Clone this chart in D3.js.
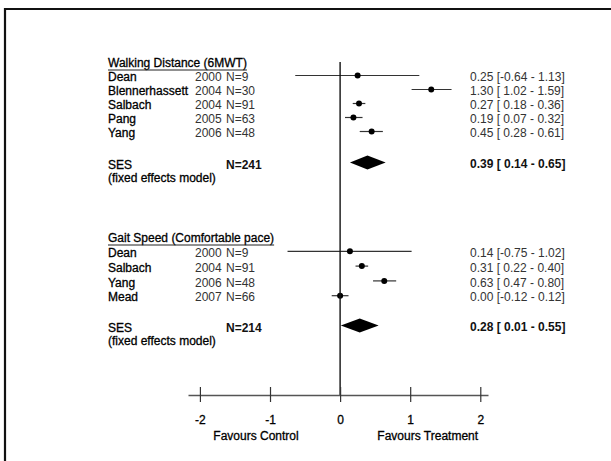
<!DOCTYPE html>
<html><head><meta charset="utf-8">
<script src="https://cdn.jsdelivr.net/npm/d3@7"></script>
<style>
body{margin:0;background:#fff;}
svg{display:block;}
text{font-family:"Liberation Sans",Arial,sans-serif;font-size:12px;fill:#111;}
.nm{fill:#000;stroke:#000;stroke-width:0.3px;}
</style></head><body>
<svg id="c" width="611" height="461"></svg>
<script>
// ---- data ----
const walkTitle = "Walking Distance (6MWT)";
const walkNames = ["Dean","Blennerhassett","Salbach","Pang","Yang"];
const walkYears = [2000,2004,2004,2005,2006];
const walkN = [9,30,91,63,48];
const walkEst = [0.25,1.30,0.27,0.19,0.45];
const walkLo = [-0.64,1.02,0.18,0.07,0.28];
const walkHi = [1.13,1.59,0.36,0.32,0.61];
const walkSES = {n:241, est:0.39, lo:0.14, hi:0.65};

const gaitTitle = "Gait Speed (Comfortable pace)";
const gaitNames = ["Dean","Salbach","Yang","Mead"];
const gaitYears = [2000,2004,2006,2007];
const gaitN = [9,91,48,66];
const gaitEst = [0.14,0.31,0.63,0.00];
const gaitLo = [-0.75,0.22,0.47,-0.12];
const gaitHi = [1.02,0.40,0.80,0.12];
const gaitSES = {n:214, est:0.28, lo:0.01, hi:0.55};

const tickValues = [-2,-1,0,1,2];
const leftLabel = "Favours Control";
const rightLabel = "Favours Treatment";

// ---- drawing ----
const svg = d3.select("#c");
svg.append("path").attr("d","M5,461 L5,9 L611,9").attr("fill","none").attr("stroke","#111").attr("stroke-width",2.2);

const x = d3.scaleLinear().domain([-2.17,2.11]).range([188,488]);
const f2 = v => v.toFixed(2);
const ci = (lo,hi) => "[" + (lo<0? "-"+f2(-lo) : " "+f2(lo)) + " - " + f2(hi) + "]";

const colName = 108, colYear = 195, colN = 226, colVal = 470;

function section(cfg){
  const g = svg.append("g");
  const y = d3.scaleLinear().domain([0,1]).range([cfg.top, cfg.top+cfg.step]);
  const t = g.append("text").attr("class","nm").attr("x",colName).attr("y",y(0)).attr("dy","0.35em").text(cfg.title);
  const w = t.node().getComputedTextLength();
  g.append("line").attr("x1",colName).attr("x2",colName+w).attr("y1",y(0)+7).attr("y2",y(0)+7).attr("stroke","#222").attr("stroke-width",1);
  const rows = cfg.names.map((n,i)=>({name:n,year:cfg.years[i],n:cfg.N[i],est:cfg.est[i],lo:cfg.lo[i],hi:cfg.hi[i],i:i+1}));
  const r = g.selectAll("g.row").data(rows).join("g").attr("class","row");
  r.append("text").attr("class","nm").attr("x",colName).attr("y",d=>y(d.i)).attr("dy","0.35em").text(d=>d.name);
  r.append("text").attr("x",colYear).attr("y",d=>y(d.i)).attr("dy","0.35em").style("fill","#333").text(d=>d.year);
  r.append("text").attr("x",colN).attr("y",d=>y(d.i)).attr("dy","0.35em").style("fill","#333").text(d=>"N="+d.n);
  r.append("text").attr("x",colVal).attr("y",d=>y(d.i)).attr("dy","0.35em").style("fill","#333").text(d=>f2(d.est)+" "+ci(d.lo,d.hi));
  r.append("line").attr("x1",d=>x(d.lo)).attr("x2",d=>x(d.hi)).attr("y1",d=>y(d.i)-1.5).attr("y2",d=>y(d.i)-1.5).attr("stroke","#333").attr("stroke-width",1.2);
  r.append("circle").attr("cx",d=>x(d.est)).attr("cy",d=>y(d.i)-1.5).attr("r",3).attr("fill","#000");
  const s = cfg.ses;
  g.append("text").attr("class","nm").attr("x",colName).attr("y",cfg.sesY+2).attr("dy","0.35em").text("SES");
  g.append("text").attr("x",colN).attr("y",cfg.sesY+2).attr("dy","0.35em").style("font-weight","bold").text("N="+s.n);
  g.append("text").attr("class","nm").attr("x",colName).attr("y",cfg.sesY+15).attr("dy","0.35em").text("(fixed effects model)");
  g.append("text").attr("x",colVal).attr("y",cfg.sesY+1).attr("dy","0.35em").style("font-weight","bold").text(f2(s.est)+" "+ci(s.lo,s.hi).replace("[","[ ").replace("[  ","[ "));
  g.append("path").attr("d",`M${x(s.lo)},${cfg.sesY} L${x(s.est)},${cfg.sesY-7} L${x(s.hi)},${cfg.sesY} L${x(s.est)},${cfg.sesY+7} Z`).attr("fill","#000");
}

section({title:walkTitle,names:walkNames,years:walkYears,N:walkN,est:walkEst,lo:walkLo,hi:walkHi,ses:walkSES,top:63,step:14,sesY:162.5});
section({title:gaitTitle,names:gaitNames,years:gaitYears,N:gaitN,est:gaitEst,lo:gaitLo,hi:gaitHi,ses:gaitSES,top:238,step:14.8,sesY:325.5});

svg.append("line").attr("x1",x(0)).attr("x2",x(0)).attr("y1",62).attr("y2",395).attr("stroke","#111").attr("stroke-width",1.4);

const ax = svg.append("g").attr("transform","translate(0,395)")
  .call(d3.axisBottom(x).tickValues(tickValues).tickSizeOuter(0).tickSizeInner(7).tickPadding(13).tickFormat(d => String(d)));
ax.select(".domain").attr("stroke","#555").attr("stroke-width",1.4);
ax.selectAll(".tick line").attr("y1",-8).attr("stroke","#333").attr("stroke-width",1.2);
ax.selectAll(".tick text").attr("class","nm").style("font-family","Liberation Sans, Arial, sans-serif").style("font-size","12px");

svg.append("text").attr("class","nm").attr("x",x(-1.2)).attr("y",436).attr("dy","0.35em").attr("text-anchor","middle").text(leftLabel);
svg.append("text").attr("class","nm").attr("x",x(1.25)).attr("y",436).attr("dy","0.35em").attr("text-anchor","middle").text(rightLabel);
</script>
</body></html>
